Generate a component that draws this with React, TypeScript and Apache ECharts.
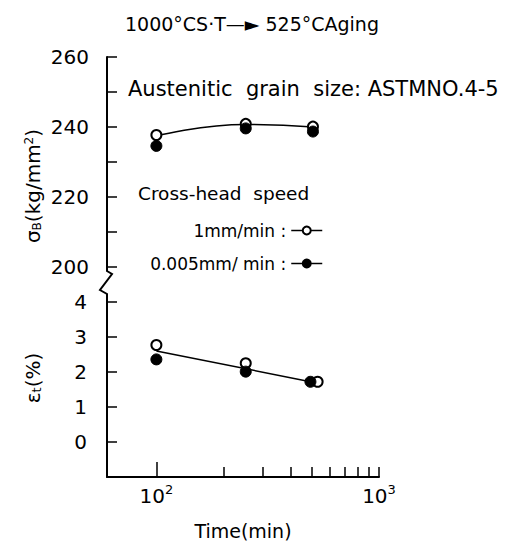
import React, { useEffect, useRef } from 'react';
import * as echarts from 'echarts';

// ---- data ----
const sigmaTimes = [100, 252, 505];
const sigmaOpen = [237.7, 240.9, 240.1];
const sigmaFilled = [234.6, 239.6, 238.7];
const sigmaFit = [237.4, 240.7, 240.0];

const epsOpenTimes = [100, 252, 530];
const epsOpen = [2.77, 2.25, 1.72];
const epsFilledTimes = [100, 252, 492];
const epsFilled = [2.36, 2.01, 1.72];
const epsFitTimes = [100, 505];
const epsFit = [2.6, 1.71];

const sigmaLabels = [200, 220, 240, 260];
const epsLabels = [0, 1, 2, 3, 4];
const xMinorTicks = [200, 300, 400, 500, 600, 700, 800, 900, 1000];
const xMajorTicks = [100];
const xLabels = [100, 1000];

const OPEN = '1mm/min :';
const FILLED = '0.005mm/ min :';

const FONT = 'DejaVu Sans';
const BLACK = '#000';

const zip = (xs: number[], ys: number[]) => xs.map((x, i) => [x, ys[i]]);

export default function App() {
  const ref = useRef<HTMLDivElement>(null);
  useEffect(() => {
    if (!ref.current) return;
    const chart = echarts.init(ref.current, undefined, { renderer: 'svg' });
    const axisLineStyle = { color: BLACK, width: 2 };
    const tickStyle = { color: BLACK, width: 1.5 };
    const labelStyle = { color: BLACK, fontFamily: FONT, fontSize: 20 };
    const openItem = { color: '#fff', borderColor: BLACK, borderWidth: 2 };
    const filledItem = { color: BLACK, borderColor: BLACK, borderWidth: 1 };
    const legendCommon = {
      orient: 'vertical',
      align: 'right',
      right: 196,
      itemWidth: 31,
      itemHeight: 10,
      padding: 0,
      itemGap: 0,
      selectedMode: false,
      textStyle: { color: BLACK, fontFamily: FONT, fontSize: 17 },
      lineStyle: { color: BLACK, width: 1.5, opacity: 1 },
    };
    const option: any = {
      animation: false,
      backgroundColor: '#fff',
      grid: [
        { left: 107, top: 57, width: 272, height: 210 },
        { left: 107, top: 302, width: 272, height: 175 },
      ],
      xAxis: [
        { gridIndex: 0, type: 'log', logBase: 10, min: 60, max: 1000, show: false },
        {
          gridIndex: 1,
          type: 'log',
          logBase: 10,
          min: 60,
          max: 1000,
          position: 'bottom',
          axisLine: { show: true, onZero: false, lineStyle: axisLineStyle },
          axisTick: { show: true, inside: true, length: 10, customValues: xMinorTicks, lineStyle: tickStyle },
          minorTick: { show: false },
          splitLine: { show: false },
          axisLabel: {
            customValues: xLabels,
            margin: 6,
            formatter: (v: number) => `{b|10}{s|${Math.round(Math.log10(v))}}`,
            rich: {
              b: { fontFamily: FONT, fontSize: 20, color: BLACK, verticalAlign: 'bottom' },
              s: { fontFamily: FONT, fontSize: 13, color: BLACK, verticalAlign: 'bottom', padding: [0, 0, 10, 0] },
            },
          },
          name: 'Time(min)',
          nameLocation: 'middle',
          nameGap: 44,
          nameTextStyle: { color: BLACK, fontFamily: FONT, fontSize: 19 },
        },
        {
          gridIndex: 1,
          type: 'log',
          logBase: 10,
          min: 60,
          max: 1000,
          position: 'bottom',
          offset: 0,
          axisLine: { show: false, onZero: false },
          axisTick: { show: true, inside: true, length: 15, customValues: xMajorTicks, lineStyle: tickStyle },
          axisLabel: { show: false },
          splitLine: { show: false },
        },
      ],
      yAxis: [
        {
          gridIndex: 0,
          type: 'value',
          min: 200,
          max: 260,
          interval: 10,
          axisLine: { show: true, onZero: false, lineStyle: axisLineStyle },
          axisTick: { show: true, inside: true, length: 10, lineStyle: tickStyle },
          axisLabel: { ...labelStyle, customValues: sigmaLabels, margin: 18 },
          splitLine: { show: false },
        },
        {
          gridIndex: 1,
          type: 'value',
          min: -1,
          max: 4,
          interval: 1,
          axisLine: { show: true, onZero: false, lineStyle: axisLineStyle },
          axisTick: { show: true, inside: true, length: 10, customValues: epsLabels, lineStyle: tickStyle },
          axisLabel: { ...labelStyle, customValues: epsLabels, margin: 20 },
          splitLine: { show: false },
        },
      ],
      legend: [
        { ...legendCommon, data: [OPEN], top: 222 },
        { ...legendCommon, data: [FILLED], top: 255 },
      ],
      series: [
        {
          type: 'line', xAxisIndex: 0, yAxisIndex: 0, smooth: true, symbol: 'none',
          data: zip(sigmaTimes, sigmaFit), lineStyle: { color: BLACK, width: 1.5 }, z: 1, silent: true,
        },
        {
          name: OPEN, type: 'line', xAxisIndex: 0, yAxisIndex: 0, symbol: 'circle', symbolSize: 10,
          data: zip(sigmaTimes, sigmaOpen), itemStyle: openItem, lineStyle: { opacity: 0, color: BLACK }, z: 2,
        },
        {
          name: FILLED, type: 'line', xAxisIndex: 0, yAxisIndex: 0, symbol: 'circle', symbolSize: 11,
          data: zip(sigmaTimes, sigmaFilled), itemStyle: filledItem, lineStyle: { opacity: 0, color: BLACK }, z: 3,
        },
        {
          type: 'line', xAxisIndex: 1, yAxisIndex: 1, symbol: 'none',
          data: zip(epsFitTimes, epsFit), lineStyle: { color: BLACK, width: 1.5 }, z: 1, silent: true,
        },
        {
          name: OPEN, type: 'line', xAxisIndex: 1, yAxisIndex: 1, symbol: 'circle', symbolSize: 10,
          data: zip(epsOpenTimes, epsOpen), itemStyle: openItem, lineStyle: { opacity: 0, color: BLACK }, z: 2,
        },
        {
          name: FILLED, type: 'line', xAxisIndex: 1, yAxisIndex: 1, symbol: 'circle', symbolSize: 11,
          data: zip(epsFilledTimes, epsFilled), itemStyle: filledItem, lineStyle: { opacity: 0, color: BLACK }, z: 3,
        },
      ],
      graphic: [
        {
          type: 'text', left: 125, top: 14,
          style: { text: '1000°CS·T—► 525°CAging', font: `19px "${FONT}"`, fill: BLACK },
        },
        {
          type: 'text', left: 128, top: 78,
          style: { text: 'Austenitic  grain  size: ASTMNO.4-5', font: `21px "${FONT}"`, fill: BLACK },
        },
        {
          type: 'text', left: 138, top: 184,
          style: { text: 'Cross-head  speed', font: `18.5px "${FONT}"`, fill: BLACK },
        },
        {
          type: 'text', x: 33, y: 186, rotation: Math.PI / 2,
          style: {
            text: '{a|σ}{s|B}{a|(kg/mm}{p|2}{a|)}',
            align: 'center', verticalAlign: 'middle',
            rich: {
              a: { fontFamily: FONT, fontSize: 20, fill: BLACK, verticalAlign: 'middle' },
              s: { fontFamily: FONT, fontSize: 12, fill: BLACK, verticalAlign: 'bottom' },
              p: { fontFamily: FONT, fontSize: 12, fill: BLACK, verticalAlign: 'top' },
            },
          },
        },
        {
          type: 'text', x: 33, y: 378, rotation: Math.PI / 2,
          style: {
            text: '{a|ε}{s|t}{a|(%)}',
            align: 'center', verticalAlign: 'middle',
            rich: {
              a: { fontFamily: FONT, fontSize: 20, fill: BLACK, verticalAlign: 'middle' },
              s: { fontFamily: FONT, fontSize: 13, fill: BLACK, verticalAlign: 'bottom' },
            },
          },
        },
        {
          type: 'polyline',
          shape: { points: [[107, 266], [107, 271], [112, 274], [100, 290], [107, 294], [107, 303]] },
          style: { stroke: BLACK, lineWidth: 2, fill: 'none' },
        },
      ],
    };
    chart.setOption(option);
    return () => chart.dispose();
  }, []);
  return (
    <div
      ref={ref}
      style={{ position: 'fixed', left: 0, top: 0, width: 519, height: 542, background: '#fff' }}
    />
  );
}
